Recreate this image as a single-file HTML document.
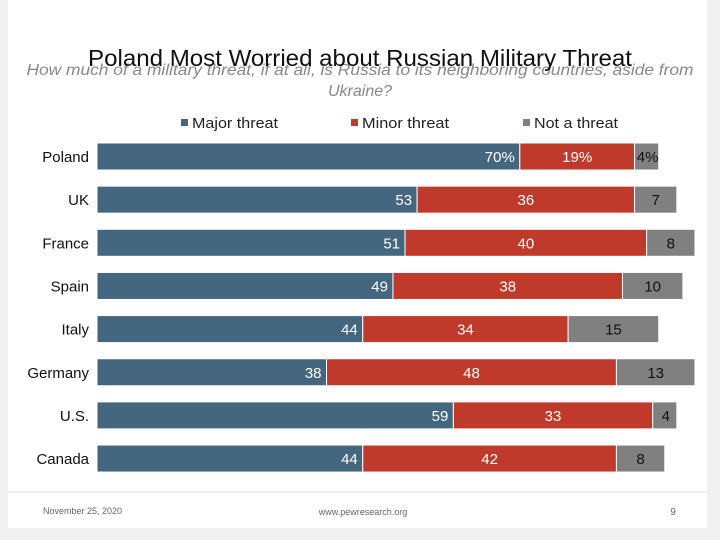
<!DOCTYPE html>
<html><head><meta charset="utf-8"><style>
html,body{margin:0;padding:0;background:#f0f0f0;}
svg{display:block;font-family:"Liberation Sans",sans-serif;}
</style></head><body>
<svg id="chart" width="720" height="540">
<rect x="8" y="0" width="699" height="528" fill="#fff"/>
<text x="360" y="75" text-anchor="middle" font-size="16" font-style="italic" fill="#888" textLength="667" lengthAdjust="spacingAndGlyphs">How much of a military threat, if at all, is Russia to its neighboring countries, aside from</text>
<text x="360" y="96" text-anchor="middle" font-size="16" font-style="italic" fill="#888">Ukraine?</text>
<text x="360" y="66" text-anchor="middle" font-size="23" fill="#111" textLength="544" lengthAdjust="spacingAndGlyphs">Poland Most Worried about Russian Military Threat</text>
<g>
<rect x="181" y="119" width="7" height="7" fill="#44677f"/>
<text x="192" y="128" font-size="15" fill="#222" textLength="86" lengthAdjust="spacingAndGlyphs">Major threat</text>
<rect x="351" y="119" width="7" height="7" fill="#bf3a2b"/>
<text x="362" y="128" font-size="15" fill="#222" textLength="87" lengthAdjust="spacingAndGlyphs">Minor threat</text>
<rect x="523" y="119" width="7" height="7" fill="#808080"/>
<text x="534" y="128" font-size="15" fill="#222" textLength="84" lengthAdjust="spacingAndGlyphs">Not a threat</text>
</g>
<g id="bars"></g>
<line x1="8" y1="492" x2="707" y2="492" stroke="#ddd" stroke-width="1"/>
<text x="43" y="514" font-size="9" fill="#666" textLength="79" lengthAdjust="spacingAndGlyphs">November 25, 2020</text>
<text x="363" y="515" text-anchor="middle" font-size="9" fill="#666">www.pewresearch.org</text>
<text x="673" y="515" text-anchor="middle" font-size="10" fill="#666">9</text>
</svg>
<script>
const countries = ["Poland","UK","France","Spain","Italy","Germany","U.S.","Canada"];
const majorVals = [70,53,51,49,44,38,59,44];
const minorVals = [19,36,40,38,34,48,33,42];
const notVals = [4,7,8,10,15,13,4,8];
const pctSuffix = [true,false,false,false,false,false,false,false];

const x0 = 97, pxPer = 6.04, y0 = 143, pitch = 43.15, bh = 27;
const xs = v => x0 + v * pxPer;
const ys = i => y0 + i * pitch;
const g = document.getElementById('bars');
const NS = 'http://www.w3.org/2000/svg';
function mk(tag, attrs, txt){
  const e = document.createElementNS(NS, tag);
  for (const k in attrs) e.setAttribute(k, attrs[k]);
  if (txt !== undefined) e.textContent = txt;
  g.appendChild(e);
  return e;
}
countries.forEach((c, i) => {
  const y = ys(i), cy = y + bh/2 + 5.5;
  const s = pctSuffix[i] ? '%' : '';
  const lab = mk('text', {x: 89, y: cy, 'text-anchor': 'end', 'font-size': 15, fill: '#111'}, c);
  
  
  const segs = [[majorVals[i], '#44677f', '#fff', 'major'], [minorVals[i], '#bf3a2b', '#fff', 'minor'], [notVals[i], '#808080', '#111', 'not']];
  let acc = 0;
  segs.forEach(([v, col, tc, nm], j) => {
    const xa = xs(acc), xb = xs(acc + v);
    const r = mk('rect', {x: xa, y: y, width: xb - xa, height: bh, fill: col, stroke: '#fff', 'stroke-width': 1});
    
    
    let t;
    if (j === 0) t = mk('text', {x: xb - 5, y: cy, 'text-anchor': 'end', 'font-size': 15, fill: tc}, v + s);
    else t = mk('text', {x: (xa + xb)/2 + (j === 2 && v < 6 ? 1 : 0), y: cy, 'text-anchor': 'middle', 'font-size': 15, fill: tc}, v + s);
    
    
    acc += v;
  });
});
</script>
</body></html>
